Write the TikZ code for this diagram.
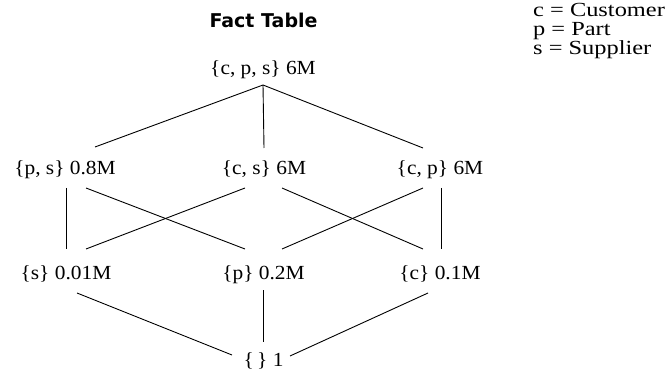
\documentclass[tikz,border=0pt]{standalone}
\usepackage{fontspec}
\setmainfont[FakeStretch=1.07]{Liberation Serif}
\newfontfamily\legendfont[FakeStretch=1.22]{Liberation Serif}
\newfontfamily\headfont{DejaVu Sans}
\usetikzlibrary{calc}
\begin{document}
\begin{tikzpicture}[x=1pt,y=-1pt,
  lat/.style={inner sep=0pt, anchor=base, font=\fontsize{20}{24}\selectfont},
  leg/.style={inner sep=0pt, anchor=base west, font=\legendfont\fontsize{20}{24}\selectfont},
  head/.style={inner sep=0pt, anchor=base, font=\headfont\bfseries\fontsize{19}{23}\selectfont},
  edge/.style={line width=0.9pt, black}]
\useasboundingbox (0,0) rectangle (668,371);
% title and legend
\node[head] (title) at (263.5,28) {Fact Table};
\node[leg] (lc) at (533,17) {c = Customer};
\node[leg] (lp) at (533,36) {p = Part};
\node[leg] (ls) at (533,55) {s = Supplier};
% lattice nodes
\node[lat] (cps) at (263,75) {\{c, p, s\} 6M};
\node[lat] (ps) at (65,175) {\{p, s\} 0.8M};
\node[lat] (cs) at (264,175) {\{c, s\} 6M};
\node[lat] (cp) at (440,175) {\{c, p\} 6M};
\node[lat] (s) at (66,279) {\{s\} 0.01M};
\node[lat] (p) at (263.5,279) {\{p\} 0.2M};
\node[lat] (c) at (440,279) {\{c\} 0.1M};
\node[lat] (e) at (263.5,366) {\{\,\} 1};
% top level
\draw[edge] ([shift={(0,10)}]cps.base) -- ([shift={(30,-28)}]ps.base);
\draw[edge] ([shift={(0,10)}]cps.base) -- ([shift={(0,-27)}]cs.base);
\draw[edge] ([shift={(0,10)}]cps.base) -- ([shift={(-17,-27)}]cp.base);
% middle level
\draw[edge] ([shift={(1,13)}]ps.base) -- ([shift={(0,-30)}]s.base);
\draw[edge] ([shift={(21,13)}]ps.base) -- ([shift={(-18.5,-30)}]p.base);
\draw[edge] ([shift={(-19,13)}]cs.base) -- ([shift={(20,-30)}]s.base);
\draw[edge] ([shift={(18,13)}]cs.base) -- ([shift={(-17,-30)}]c.base);
\draw[edge] ([shift={(-17,13)}]cp.base) -- ([shift={(18.5,-30)}]p.base);
\draw[edge] ([shift={(1,13)}]cp.base) -- ([shift={(1,-30)}]c.base);
% bottom level
\draw[edge] ([shift={(11,14)}]s.base) -- ([shift={(-31.5,-11)}]e.base);
\draw[edge] ([shift={(0,11)}]p.base) -- ([shift={(0,-24)}]e.base);
\draw[edge] ([shift={(-12,14)}]c.base) -- ([shift={(26.5,-10)}]e.base);
\end{tikzpicture}
\end{document}
